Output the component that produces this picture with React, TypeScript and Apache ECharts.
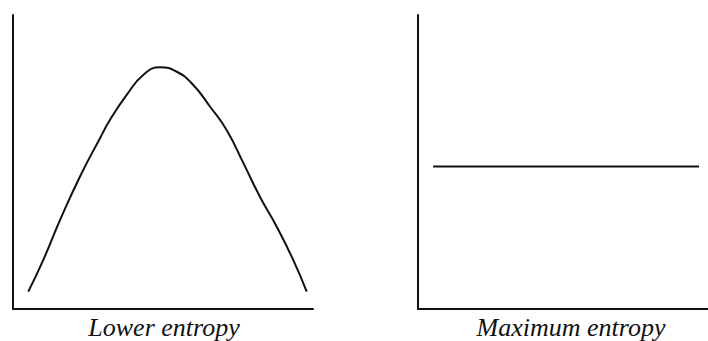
import React, { useEffect, useRef } from "react";
import * as echarts from "echarts";

// Left panel: lower entropy (peaked distribution)
const lowerX = [5.1, 10.1, 15.7, 22.3, 29, 32.3, 37.9, 43.4, 49, 54.6, 60.1, 65.7, 71.2, 76.8, 82.3, 87.9, 93.4, 97.9];
const lowerY = [5.9, 16.7, 30.3, 45, 58.1, 64.3, 72.8, 79.6, 82.2, 80.7, 76.2, 68.8, 60.9, 49.6, 38.2, 28, 16.7, 5.9];

// Right panel: maximum entropy (flat distribution)
const maxX = [5.2, 96.9];
const maxY = [48.5, 48.5];

const labels = ["Lower entropy", "Maximum entropy"];

export default function App() {
  const ref = useRef<HTMLDivElement>(null);
  useEffect(() => {
    if (!ref.current) return;
    const chart = echarts.init(ref.current, null, { renderer: "svg" });
    const axisLine = { show: true, lineStyle: { color: "#111", width: 2 } };
    const common = {
      type: "value" as const,
      min: 0,
      max: 100,
      axisLine,
      axisTick: { show: false },
      axisLabel: { show: false },
      splitLine: { show: false },
    };
    const font = {
      fontFamily: "Liberation Serif",
      fontStyle: "italic",
      fontSize: 26,
      fill: "#111",
      align: "center",
      verticalAlign: "bottom",
    };
    chart.setOption({
      animation: false,
      backgroundColor: "#fff",
      grid: [
        { left: 13, top: 15, width: 300, height: 294 },
        { left: 418, top: 15, width: 290, height: 294 },
      ],
      xAxis: [
        { ...common, gridIndex: 0 },
        { ...common, gridIndex: 1 },
      ],
      yAxis: [
        { ...common, gridIndex: 0 },
        { ...common, gridIndex: 1 },
      ],
      series: [
        {
          type: "line",
          xAxisIndex: 0,
          yAxisIndex: 0,
          data: lowerX.map((x, i) => [x, lowerY[i]]),
          smooth: 0.5,
          showSymbol: false,
          lineStyle: { color: "#111", width: 2 },
        },
        {
          type: "line",
          xAxisIndex: 1,
          yAxisIndex: 1,
          data: maxX.map((x, i) => [x, maxY[i]]),
          showSymbol: false,
          lineStyle: { color: "#111", width: 2 },
        },
      ],
      graphic: [
        { type: "text", x: 164, y: 340, style: { ...font, text: labels[0] } },
        { type: "text", x: 571, y: 340, style: { ...font, text: labels[1] } },
      ],
    });
    return () => chart.dispose();
  }, []);
  return (
    <div
      ref={ref}
      style={{ position: "fixed", left: 0, top: 0, width: 708, height: 341, background: "#fff" }}
    />
  );
}
